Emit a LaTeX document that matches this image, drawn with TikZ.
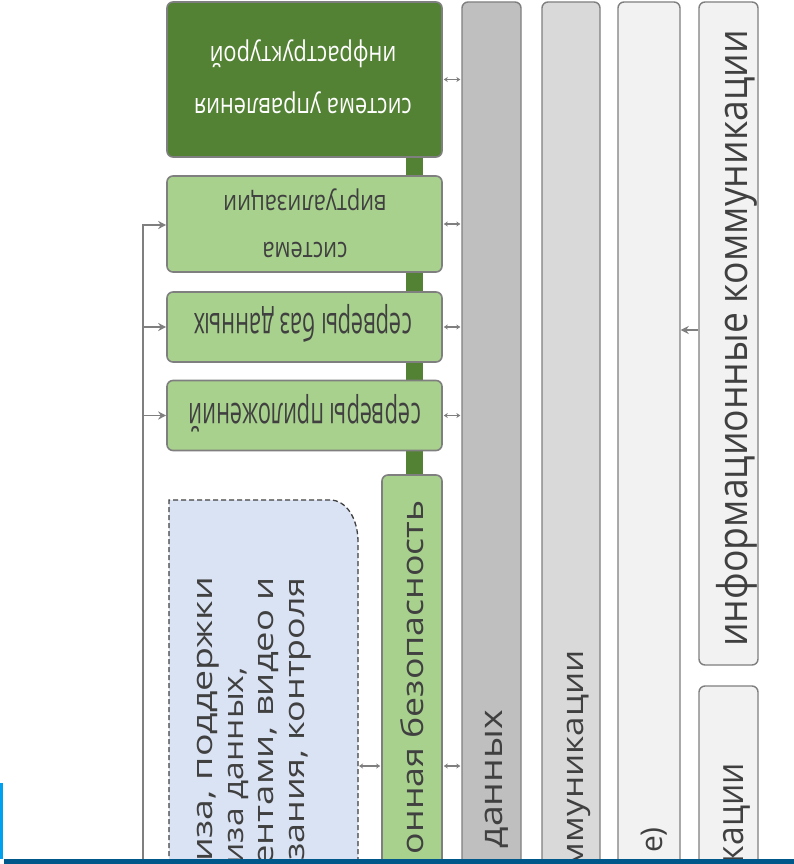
\documentclass[tikz,border=0pt]{standalone}
\usepackage{fontspec}
\setmainfont{Open Sans}
\usetikzlibrary{arrows.meta}
\definecolor{dg}{HTML}{548235}
\definecolor{lg}{HTML}{A9D18E}
\definecolor{bd}{HTML}{7F7F7F}
\definecolor{gA}{HTML}{BFBFBF}
\definecolor{gB}{HTML}{D9D9D9}
\definecolor{gC}{HTML}{F2F2F2}
\definecolor{bl}{HTML}{DAE3F3}
\definecolor{tx}{HTML}{404040}
\definecolor{navy}{HTML}{00578A}
\definecolor{cyanline}{HTML}{00A2F0}
\tikzset{
  boxbase/.style={draw=bd, line width=1.6pt, rounded corners=6pt, inner sep=0pt},
  darkbox/.style={boxbase, fill=dg},
  greenbox/.style={boxbase, fill=lg},
  barbox/.style={boxbase, line width=1.4pt},
  utext/.style={rotate=180, inner sep=0pt, align=center, xscale=0.78},
  vtext/.style={rotate=90, inner sep=0pt, anchor=base east, text=tx},
  dbl/.style={draw=bd, line width=1.2pt, {Stealth[length=4pt,width=5pt]}-{Stealth[length=4pt,width=5pt]}, shorten <=1pt, shorten >=1pt},
  feed/.style={draw=bd, line width=1.8pt, -{Stealth[length=8pt,width=8pt]}},
}
\newcommand\vt[3]{\scalebox{#2}[1]{\fontsize{#1}{#1}\selectfont #3}}
\begin{document}
\begin{tikzpicture}[x=1pt,y=-1pt]
\useasboundingbox (0,0) rectangle (794,864);
\fill[white] (0,0) rectangle (794,864);

% backbone
\coordinate (bbtop) at (414.5,150);
\coordinate (bbbot) at (414.5,482);
\draw[draw=dg, line width=17pt] (bbtop) -- (bbbot);

% vertical bars
\node[barbox, fill=gA, minimum width=59pt, minimum height=890pt] (bar1) at (491.5,447) {};
\node[barbox, fill=gB, minimum width=58pt, minimum height=890pt] (bar2) at (571,447) {};
\node[barbox, fill=gC, minimum width=62pt, minimum height=890pt] (bar3) at (649,447) {};
\node[barbox, fill=gC, minimum width=59pt, minimum height=663pt] (bar4a) at (728.5,333.5) {};
\node[barbox, fill=gC, minimum width=59pt, minimum height=200pt] (bar4b) at (728.5,786) {};

% green boxes
\node[darkbox, minimum width=275pt, minimum height=155pt] (ctl) at (304.5,79.5) {};
\node[greenbox, minimum width=275pt, minimum height=96pt] (virt) at (304.5,224) {};
\node[greenbox, minimum width=275pt, minimum height=70pt] (db) at (304.5,327) {};
\node[greenbox, minimum width=275pt, minimum height=70pt] (app) at (304.5,415.5) {};
\node[greenbox, minimum width=60pt, minimum height=420pt] (sec) at (412,685) {};

% dashed box
\coordinate (dashNW) at (169,500);
\coordinate (dashE) at (358,766);
\draw[draw=tx, fill=bl, line width=1.3pt, dash pattern=on 5pt off 3pt]
  (169,880) -- (dashNW) -- (330,500) .. controls (346,500) and (358,518) .. (358,542) -- (358,880);

% upside-down texts
\node[utext, text=white, font=\fontsize{28}{52}\selectfont] (tctl) at (303,77) {система управления\\инфраструктурой};
\node[utext, text=tx, font=\fontsize{28}{47}\selectfont] (tvirt) at (305,223.5) {система\\виртуализации};
\node[utext, text=tx, font=\fontsize{28}{34}\selectfont, yscale=1.35] (tdb) at (303,323) {серверы баз данных};
\node[utext, text=tx, font=\fontsize{28}{34}\selectfont, yscale=1.35] (tapp) at (305,413) {серверы приложений};

% vertical texts
\node[vtext] (tsec) at (423,500) {\vt{30}{1.19}{онная безопасность}};
\node[vtext] (tbar4a) at (747,30) {\vt{41}{0.91}{информационные коммуникации}};
\node[vtext] (tbar1) at (502,710) {\vt{32}{1.17}{данных}};
\node[vtext] (tbar2) at (583,650) {\vt{30}{1.17}{ммуникации}};
\node[vtext] (tbar3) at (662,827) {\vt{30}{1.0}{е)}};
\node[vtext] (tbar4b) at (743,763) {\vt{37}{0.91}{кации}};
\node[vtext] (td1) at (212,577) {\vt{28}{1.34}{иза, поддержки}};
\node[vtext] (td2) at (243,667) {\vt{28}{1.2}{иза данных,}};
\node[vtext] (td3) at (273,577) {\vt{28}{1.3}{ентами, видео и}};
\node[vtext] (td4) at (304,577) {\vt{28}{1.28}{зания, контроля}};

% connectors
\coordinate (ya) at (0,766);
\coordinate (yb) at (0,330);
\draw[dbl] (ctl.east) -- (ctl.east -| bar1.west);
\draw[dbl] (virt.east) -- (virt.east -| bar1.west);
\draw[dbl] (db.east) -- (db.east -| bar1.west);
\draw[dbl] (app.east) -- (app.east -| bar1.west);
\draw[dbl] (sec.east |- ya) -- (bar1.west |- ya);
\draw[dbl] (dashE) -- (sec.west |- ya);
\draw[feed] (bar4a.west |- yb) -- (bar3.east |- yb);
\coordinate (fbot) at (143,880);
\coordinate (ftop) at (143,225);
\draw[feed] (fbot) -- (ftop) -- (virt.west |- ftop);
\draw[feed] (ftop |- db.west) -- (db.west);
\draw[feed] (ftop |- app.west) -- (app.west);

% frame lines at the bottom
\coordinate (navyL) at (4,861.5);
\coordinate (navyR) at (794,861.5);
\draw[draw=navy, line width=5pt] (navyL) -- (navyR);
\coordinate (cyT) at (1.5,783);
\coordinate (cyB) at (1.5,859);
\draw[draw=cyanline, line width=3pt] (cyT) -- (cyB);
\end{tikzpicture}
\end{document}
